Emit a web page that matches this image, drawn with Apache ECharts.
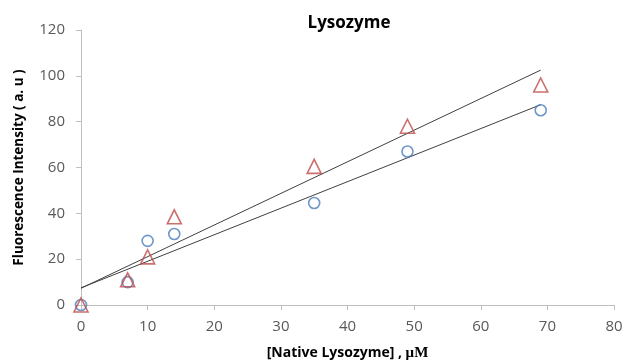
<!DOCTYPE html>
<html>
<head>
<meta charset="utf-8">
<script src="https://cdn.jsdelivr.net/npm/echarts@6/dist/echarts.min.js"></script>
<style>
  html, body { margin: 0; padding: 0; background: #fff; }
  #chart { width: 626px; height: 361px; }
</style>
</head>
<body>
<div id="chart"></div>
<script>
// concentrations (uM)
var conc = [0, 7, 10, 14, 35, 49, 69];
// circle series (blue)
var circleVals = [0, 10, 28, 31, 44.5, 67, 85];
// triangle series (red)
var triVals = [0, 11, 21, 38.5, 60.5, 78, 96];
// trend lines (start / end points)
var trendTri = [[0, 7.3], [69, 102.5]];
var trendCircle = [[0, 7.5], [69, 87.4]];

function pairs(xs, ys) {
	return xs.map(function (x, i) { return [x, ys[i]]; });
}

var myChart = echarts.init(document.getElementById('chart'));
var axisColor = '#bfbfbf';
var labelColor = '#595959';
var font = '"Open Sans", sans-serif';

var option = {
	backgroundColor: '#fff',
	animation: false,
	title: {
		text: 'Lysozyme',
		left: 344,
		textAlign: 'center',
		top: 10,
		textStyle: { fontFamily: font, fontSize: 17, fontWeight: 'bold', color: '#000' }
	},
	grid: { left: 81, right: 12, top: 30, bottom: 56, containLabel: false, outerBoundsMode: 'none' },
	xAxis: {
		type: 'value',
		min: 0, max: 80, interval: 10,
		name: '{a|[Native Lysozyme] , }{b|μM}',
		nameLocation: 'middle',
		nameGap: 41,
		nameTextStyle: {
			rich: {
				a: { fontFamily: font, fontSize: 14, fontWeight: 'bold', color: '#000' },
				b: { fontFamily: '"Liberation Serif", serif', fontSize: 15, fontWeight: 'bold', color: '#000' }
			}
		},
		axisLine: { lineStyle: { color: axisColor, width: 1 } },
		axisTick: { show: true, inside: false, length: 5, lineStyle: { color: axisColor } },
		axisLabel: { color: labelColor, fontSize: 15, fontFamily: font, margin: 14 },
		splitLine: { show: false }
	},
	yAxis: {
		type: 'value',
		min: 0, max: 120, interval: 20,
		name: 'Fluorescence Intensity ( a. u )',
		nameLocation: 'middle',
		nameGap: 55,
		nameTextStyle: { fontFamily: font, fontSize: 13.5, fontWeight: 'bold', color: '#000' },
		axisLine: { show: true, lineStyle: { color: axisColor, width: 1 } },
		axisTick: { show: true, inside: false, length: 5, lineStyle: { color: axisColor } },
		axisLabel: { color: labelColor, fontSize: 15, fontFamily: font, margin: 16 },
		splitLine: { show: false }
	},
	series: [
		{
			type: 'line',
			data: trendTri,
			symbol: 'none',
			lineStyle: { color: '#404040', width: 1 },
			z: 1
		},
		{
			type: 'line',
			data: trendCircle,
			symbol: 'none',
			lineStyle: { color: '#404040', width: 1 },
			z: 1
		},
		{
			type: 'scatter',
			data: pairs(conc, circleVals),
			symbol: 'circle',
			symbolSize: 11,
			itemStyle: { color: 'rgba(0,0,0,0)', borderColor: '#4a7ebb', borderWidth: 1.6 },
			z: 3
		},
		{
			type: 'scatter',
			data: pairs(conc, triVals),
			symbol: 'triangle',
			symbolSize: 14,
			itemStyle: { color: 'rgba(0,0,0,0)', borderColor: '#be4b48', borderWidth: 1.6 },
			z: 4
		}
	]
};

myChart.setOption(option);
</script>
</body>
</html>
